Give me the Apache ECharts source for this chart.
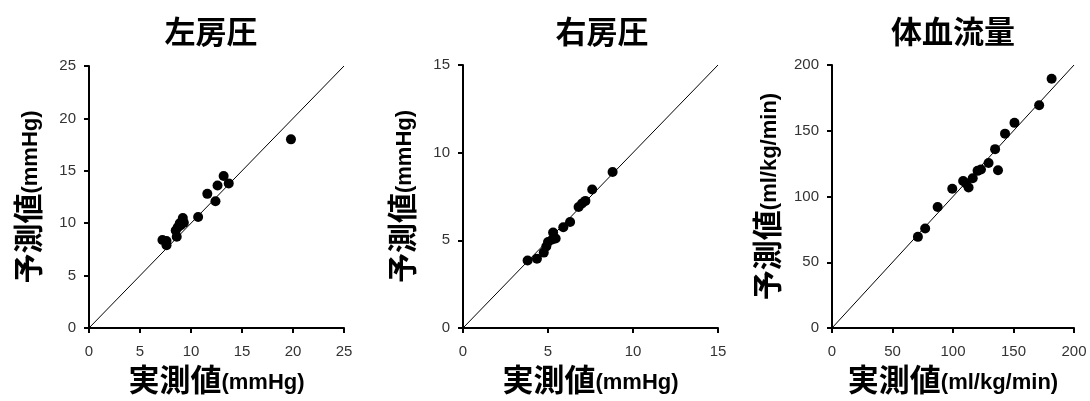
<!DOCTYPE html>
<html><head><meta charset="utf-8">
<script src="https://cdn.jsdelivr.net/npm/echarts@6/dist/echarts.min.js"></script>
<style>html,body{margin:0;padding:0;background:#fff}#c{width:1090px;height:401px}</style>
</head><body><div id="c"></div>
<script>
// ---- data ----
const titles = ['左房圧', '右房圧', '体血流量'];
const units = ['(mmHg)', '(mmHg)', '(ml/kg/min)'];
const axisMax = [25, 15, 200];
const axisInterval = [5, 5, 50];

const laX = [19.8, 13.2, 13.7, 12.6, 11.6, 12.4, 10.7, 9.2, 9.3, 8.9, 8.7, 8.5, 8.6, 7.2, 7.6, 7.6, 9.0];
const laY = [18.0, 14.5, 13.8, 13.6, 12.8, 12.1, 10.6, 10.5, 10.05, 10.0, 9.6, 9.3, 8.7, 8.4, 8.3, 7.9, 9.8];

const raX = [8.8, 7.6, 7.2, 7.0, 6.8, 6.3, 5.9, 5.3, 5.45, 5.25, 5.0, 4.9, 4.75, 4.35, 3.8];
const raY = [8.9, 7.9, 7.25, 7.1, 6.9, 6.05, 5.75, 5.45, 5.1, 5.05, 4.9, 4.65, 4.3, 3.95, 3.85];

const qsX = [181.5, 171.2, 150.8, 143, 134.8, 137.2, 129.4, 123.1, 120.3, 116.3, 108.4, 112.9, 110.8, 99.4, 87.3, 77, 71];
const qsY = [189.5, 169.4, 156, 147.8, 136, 120, 125.5, 120.6, 119.5, 113.9, 111.8, 106.9, 110, 105.9, 92, 75.6, 69.3];

const xs = [laX, raX, qsX];
const ys = [laY, raY, qsY];

// ---- layout ----
const grids = [
  {left: 89, top: 66, width: 255, height: 262},
  {left: 463, top: 65, width: 255, height: 263},
  {left: 832, top: 65, width: 242, height: 263}
];
const titleCenters = [206, 597, 948];

const numFont = '"Liberation Sans", Arial, sans-serif';
const cjkFont = '"Noto Sans CJK JP", "Noto Sans", sans-serif';

const option = {
  backgroundColor: '#fff',
  animation: false,
  title: titles.map((t, i) => ({
    text: t, left: titleCenters[i], top: 11, textAlign: 'center',
    textStyle: {fontFamily: cjkFont, fontWeight: 'bold', fontSize: 31, color: '#000'}
  })),
  grid: grids,
  xAxis: grids.map((g, i) => ({
    gridIndex: i, type: 'value', min: 0, max: axisMax[i], interval: axisInterval[i],
    name: '{a|実測値}{b|' + units[i] + '}', nameLocation: 'middle', nameGap: 36,
    nameTextStyle: {rich: {
      a: {fontFamily: cjkFont, fontWeight: 'bold', fontSize: 31, color: '#000', verticalAlign: 'bottom'},
      b: {fontFamily: numFont, fontWeight: 'bold', fontSize: 22, color: '#000', verticalAlign: 'bottom', padding: [0, 0, 1, 0]}
    }},
    splitLine: {show: false},
    axisLine: {lineStyle: {color: '#000', width: 2}},
    axisTick: {show: true, inside: false, length: 5, lineStyle: {color: '#000', width: 2}},
    axisLabel: {fontFamily: numFont, fontSize: 15, color: '#333', margin: 16}
  })),
  yAxis: grids.map((g, i) => ({
    gridIndex: i, type: 'value', min: 0, max: axisMax[i], interval: axisInterval[i],
    name: '{a|予測値}{b|' + units[i] + '}', nameLocation: 'middle', nameGap: i === 2 ? 50 : 46, nameRotate: 90,
    nameTextStyle: {rich: {
      a: {fontFamily: cjkFont, fontWeight: 'bold', fontSize: 30, color: '#000', verticalAlign: 'bottom'},
      b: {fontFamily: numFont, fontWeight: 'bold', fontSize: 22, color: '#000', verticalAlign: 'bottom', padding: [0, 0, 1, 0]}
    }},
    splitLine: {show: false},
    axisLine: {lineStyle: {color: '#000', width: 2}},
    axisTick: {show: true, inside: false, length: 5, lineStyle: {color: '#000', width: 2}},
    axisLabel: {fontFamily: numFont, fontSize: 15, color: '#333', margin: 13}
  })),
  series: []
};

grids.forEach((g, i) => {
  option.series.push({
    type: 'line', xAxisIndex: i, yAxisIndex: i,
    data: [[0, 0], [axisMax[i], axisMax[i]]],
    showSymbol: false, symbol: 'none',
    lineStyle: {color: '#000', width: 1}, z: 1, silent: true
  });
  option.series.push({
    type: 'scatter', xAxisIndex: i, yAxisIndex: i,
    data: xs[i].map((x, k) => [x, ys[i][k]]),
    symbol: 'circle', symbolSize: 10,
    itemStyle: {color: '#000', opacity: 1}, z: 2
  });
});

const chart = echarts.init(document.getElementById('c'), null, {renderer: 'canvas'});
chart.setOption(option);
</script>
</body></html>
